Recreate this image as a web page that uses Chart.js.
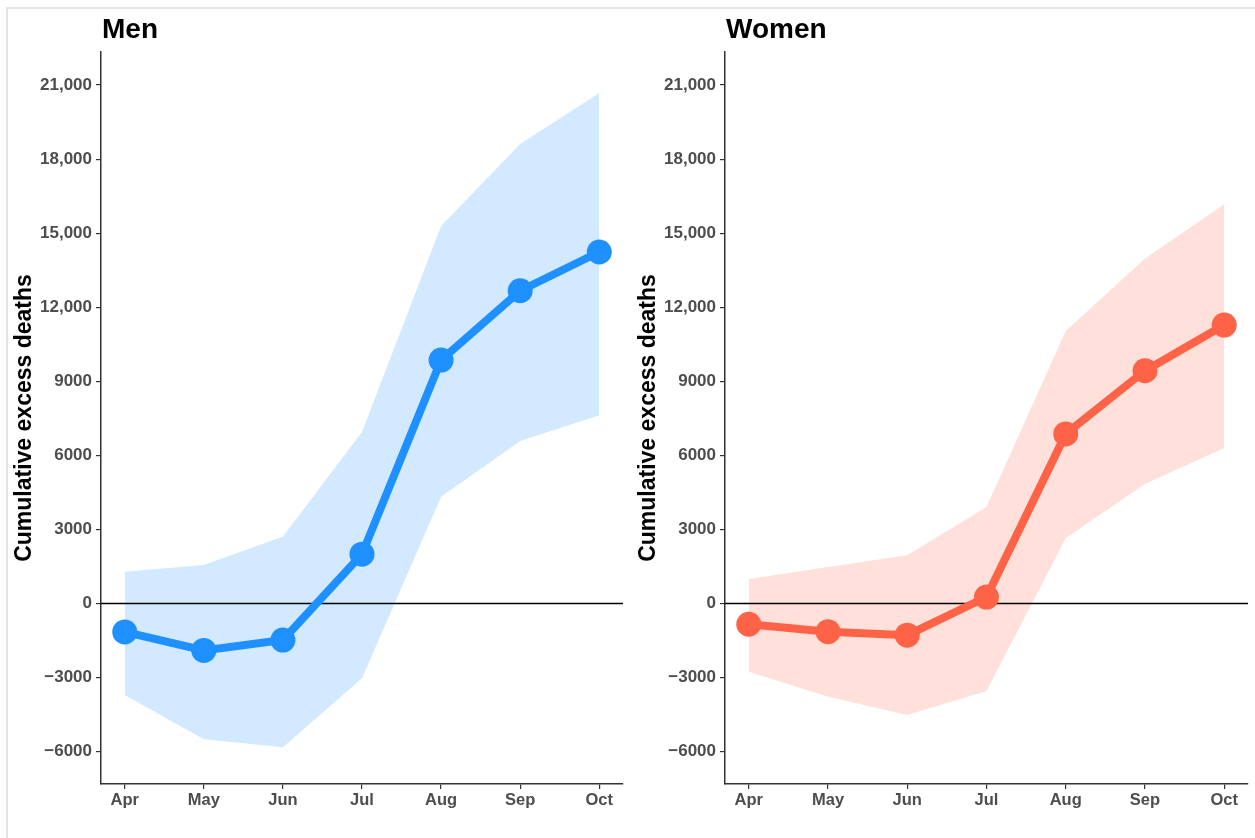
<!DOCTYPE html>
<html lang="en">
<head>
    <meta charset="UTF-8">
    <title>Cumulative excess deaths</title>
    <script src="https://cdn.jsdelivr.net/npm/chart.js"></script>
    <style>
        body {
            margin: 0;
            padding: 0;
            background: #ffffff;
            width: 1255px;
            height: 838px;
            overflow: hidden;
            position: relative;
            font-family: "Liberation Sans", Arial, sans-serif;
        }
        .frame {
            position: absolute;
            left: 6px;
            top: 7px;
            width: 1260px;
            height: 850px;
            border: 2px solid #e6e6e6;
        }
        canvas {
            position: absolute;
            top: 0;
        }
        #men-chart { left: 0; }
        #women-chart { left: 624px; }
    </style>
</head>
<body>
    <div class="frame"></div>
    <canvas id="men-chart" width="624" height="838"></canvas>
    <canvas id="women-chart" width="631" height="838"></canvas>

    <script>
        // Data
        const months = ['Apr', 'May', 'Jun', 'Jul', 'Aug', 'Sep', 'Oct'];

        const menMid = [-1150, -1900, -1480, 2000, 9860, 12670, 14240];
        const menLo  = [-3700, -5500, -5820, -3030, 4330, 6580, 7630];
        const menHi  = [1290, 1560, 2720, 6950, 15290, 18610, 20680];

        const womenMid = [-840, -1140, -1280, 260, 6870, 9430, 11280];
        const womenLo  = [-2760, -3780, -4520, -3540, 2650, 4840, 6300];
        const womenHi  = [990, 1480, 1960, 3910, 11040, 13980, 16170];

        const yTickValues = [-6000, -3000, 0, 3000, 6000, 9000, 12000, 15000, 18000, 21000];
        const yTickLabels = ['\u22126000', '\u22123000', '0', '3000', '6000', '9000', '12,000', '15,000', '18,000', '21,000'];

        const FONT = '"Liberation Sans", Arial, sans-serif';
        const AXIS = '#333333';
        const TICK_TEXT = '#4d4d4d';

        // panel title + zero reference line
        const panelDecor = {
            id: 'panelDecor',
            beforeDatasetDraw(chart, args, opts) {
                if (args.index !== 0) return;
                const { ctx, chartArea } = chart;
                const y = chart.scales.y.getPixelForValue(0);
                ctx.save();
                ctx.strokeStyle = '#000000';
                ctx.lineWidth = 1.5;
                ctx.beginPath();
                ctx.moveTo(chartArea.left, y);
                ctx.lineTo(chartArea.right, y);
                ctx.stroke();
                ctx.restore();
            },
            afterDraw(chart, args, opts) {
                const { ctx, chartArea } = chart;
                ctx.save();
                ctx.fillStyle = '#000000';
                ctx.font = 'bold 28px ' + FONT;
                ctx.textBaseline = 'alphabetic';
                ctx.textAlign = 'left';
                ctx.fillText(opts.text, chartArea.left + 1, 38);
                ctx.restore();
            }
        };

        function makePanel(canvasId, title, mid, lo, hi, lineColor, ribbonColor, padRight) {
            const ctx = document.getElementById(canvasId).getContext('2d');
            const pts = arr => arr.map((v, i) => ({ x: i, y: v }));

            return new Chart(ctx, {
                type: 'line',
                data: {
                    datasets: [
                        {
                            label: title,
                            data: pts(mid),
                            borderColor: lineColor,
                            backgroundColor: lineColor,
                            borderWidth: 8,
                            pointRadius: 12.5,
                            pointBorderWidth: 0,
                            pointBackgroundColor: lineColor,
                            fill: false,
                            tension: 0,
                            clip: false,
                            order: 0
                        },
                        {
                            label: 'lower',
                            data: pts(lo),
                            borderWidth: 0,
                            borderColor: 'rgba(0,0,0,0)',
                            pointRadius: 0,
                            fill: false,
                            tension: 0,
                            order: 1
                        },
                        {
                            label: 'upper',
                            data: pts(hi),
                            borderWidth: 0,
                            borderColor: 'rgba(0,0,0,0)',
                            backgroundColor: ribbonColor,
                            pointRadius: 0,
                            fill: '-1',
                            tension: 0,
                            order: 2
                        }
                    ]
                },
                options: {
                    responsive: false,
                    animation: false,
                    devicePixelRatio: 1,
                    layout: { autoPadding: false, padding: { left: 0, right: padRight, top: 52, bottom: 14 } },
                    plugins: {
                        legend: { display: false },
                        tooltip: { enabled: false },
                        panelDecor: { text: title }
                    },
                    scales: {
                        x: {
                            type: 'linear',
                            min: -0.3,
                            max: 6.3,
                            afterBuildTicks: s => { s.ticks = months.map((m, i) => ({ value: i })); },
                            afterFit: s => { s.height = 40; s.paddingLeft = 0; s.paddingRight = 0; },
                            ticks: {
                                callback: v => months[v],
                                color: TICK_TEXT,
                                font: { family: FONT, size: 16.5, weight: 'bold' },
                                padding: 2,
                                maxRotation: 0
                            },
                            grid: { drawOnChartArea: false, drawTicks: true, tickLength: 5, color: AXIS, lineWidth: 1.2 },
                            border: { display: true, color: AXIS, width: 1.5 }
                        },
                        y: {
                            type: 'linear',
                            min: -7310,
                            max: 22340,
                            afterBuildTicks: s => { s.ticks = yTickValues.map(v => ({ value: v })); },
                            afterFit: s => { s.width = 101; s.paddingTop = 0; s.paddingBottom = 0; },
                            ticks: {
                                callback: v => yTickLabels[yTickValues.indexOf(v)],
                                color: TICK_TEXT,
                                font: { family: FONT, size: 17, weight: 'bold' },
                                padding: 4
                            },
                            title: {
                                display: true,
                                text: 'Cumulative excess deaths',
                                color: '#000000',
                                font: { family: FONT, size: 23, weight: 'bold' },
                                padding: { top: 11, bottom: 0 }
                            },
                            grid: { drawOnChartArea: false, drawTicks: true, tickLength: 5, color: AXIS, lineWidth: 1.2 },
                            border: { display: true, color: AXIS, width: 1.5 }
                        }
                    }
                },
                plugins: [panelDecor]
            });
        }

        makePanel('men-chart', 'Men', menMid, menLo, menHi, '#1E90FF', '#D2E9FF', 1);
        makePanel('women-chart', 'Women', womenMid, womenLo, womenHi, '#FF6347', '#FFE0DA', 7);
    </script>
</body>
</html>
